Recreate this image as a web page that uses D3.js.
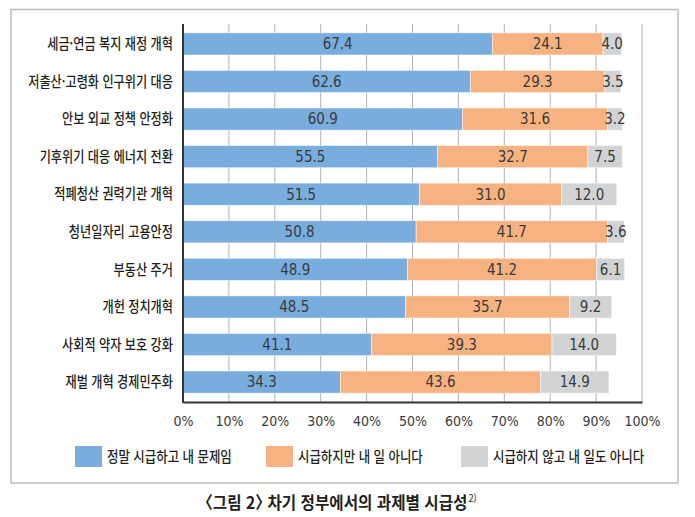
<!DOCTYPE html>
<html lang="ko">
<head>
<meta charset="UTF-8">
<title>차기 정부에서의 과제별 시급성</title>
<script src="https://d3js.org/d3.v7.min.js"></script>
<style>
  html, body { margin: 0; padding: 0; background: #fff; }
  svg { display: block; }
  .kr { font-family: "Noto Sans CJK KR", "Noto Sans", sans-serif; fill: #231f20; }
  .num { font-family: "Liberation Sans Narrow", "DejaVu Sans Condensed", Arial, sans-serif; fill: #3a3a3a; }
  .grid line { stroke: #b3b3b3; stroke-width: 1; }
  .title { font-feature-settings: "halt"; }
</style>
</head>
<body>
<svg id="chart"></svg>
<script>
// data
const categories = [
  '세금·연금 복지 재정 개혁',
  '저출산·고령화 인구위기 대응',
  '안보 외교 정책 안정화',
  '기후위기 대응 에너지 전환',
  '적폐청산 권력기관 개혁',
  '청년일자리 고용안정',
  '부동산 주거',
  '개헌 정치개혁',
  '사회적 약자 보호 강화',
  '재벌 개혁 경제민주화'
];
const urgentMine    = [67.4, 62.6, 60.9, 55.5, 51.5, 50.8, 48.9, 48.5, 41.1, 34.3];
const urgentNotMine = [24.1, 29.3, 31.6, 32.7, 31.0, 41.7, 41.2, 35.7, 39.3, 43.6];
const neither       = [4.0, 3.5, 3.2, 7.5, 12.0, 3.6, 6.1, 9.2, 14.0, 14.9];
const seriesNames = ['정말 시급하고 내 문제임', '시급하지만 내 일 아니다', '시급하지 않고 내 일도 아니다'];
const colors = ['#79adde', '#f7b282', '#d2d3d5'];
const ticks = [0, 10, 20, 30, 40, 50, 60, 70, 80, 90, 100];
const title = '〈그림 2〉 차기 정부에서의 과제별 시급성';
const titleNote = '2)';

const width = 695, height = 517;
const svg = d3.select('#chart').attr('width', width).attr('height', height);

// outer frame
svg.append('rect')
  .attr('x', 11).attr('y', 9.5)
  .attr('width', 667).attr('height', 473.5)
  .attr('fill', 'none').attr('stroke', '#bdbdbd').attr('stroke-width', 1.5);

const plot = { left: 183, right: 642, top: 24, bottom: 402 };

const x = d3.scaleLinear().domain([0, 100]).range([plot.left, plot.right]);
const y = d3.scaleBand().domain(categories).range([plot.top, plot.bottom])
  .paddingInner(0.41).paddingOuter(0.235);

// stack rows
const rows = categories.map((c, i) => ({ cat: c, s0: urgentMine[i], s1: urgentNotMine[i], s2: neither[i] }));
const stack = d3.stack().keys(['s0', 's1', 's2'])(rows);

// gridlines
svg.append('g').attr('class', 'grid')
  .selectAll('line').data(ticks.slice(1)).join('line')
  .attr('x1', d => x(d)).attr('x2', d => x(d))
  .attr('y1', plot.top).attr('y2', plot.bottom);

// bars
const layers = svg.selectAll('g.layer').data(stack).join('g')
  .attr('class', 'layer')
  .attr('fill', (d, i) => colors[i]);

layers.selectAll('rect').data(d => d).join('rect')
  .attr('x', d => x(d[0]))
  .attr('y', d => y(d.data.cat))
  .attr('width', d => x(d[1]) - x(d[0]))
  .attr('height', y.bandwidth())
  .attr('stroke', 'rgba(255,255,255,0.6)')
  .attr('stroke-width', 0.8);

// value labels
layers.selectAll('text').data(d => d).join('text')
  .attr('class', 'num')
  .attr('x', d => (x(d[0]) + x(d[1])) / 2)
  .attr('y', d => y(d.data.cat) + y.bandwidth() / 2)
  .attr('dy', '0.36em')
  .attr('text-anchor', 'middle')
  .attr('font-size', 15)
  .text(d => (d[1] - d[0]).toFixed(1));

// axes
const xAxis = d3.axisBottom(x).tickValues(ticks).tickFormat(d => d + '%').tickSize(0).tickPadding(14);
const gx = svg.append('g').attr('transform', `translate(0,${plot.bottom})`).call(xAxis);
gx.select('.domain').attr('stroke', '#333').attr('stroke-width', 2);
gx.selectAll('text').attr('class', 'num').attr('font-size', 14).attr('fill', '#3a3a3a');

svg.append('line')
  .attr('x1', plot.left).attr('x2', plot.left)
  .attr('y1', plot.top).attr('y2', plot.bottom + 1)
  .attr('stroke', '#333').attr('stroke-width', 2);

// category labels (condensed Korean face)
svg.append('g').selectAll('text').data(categories).join('text')
  .attr('class', 'kr')
  .attr('transform', d => `translate(173,${y(d) + y.bandwidth() / 2}) scale(0.84,1)`)
  .attr('dy', '0.36em')
  .attr('text-anchor', 'end')
  .attr('font-size', 14.5)
  .attr('font-weight', 500)
  .text(d => d);

// legend
const legendX = [75, 266, 461];
const lg = svg.append('g').selectAll('g').data(seriesNames).join('g')
  .attr('transform', (d, i) => `translate(${legendX[i]},446)`);
lg.append('rect').attr('width', 27).attr('height', 21).attr('fill', (d, i) => colors[i]);
lg.append('text')
  .attr('class', 'kr')
  .attr('transform', 'translate(32,10.5) scale(0.87,1)')
  .attr('dy', '0.36em')
  .attr('font-size', 14.3)
  .attr('font-weight', 500)
  .text(d => d);

// title
const t = svg.append('text')
  .attr('class', 'kr title')
  .attr('transform', 'translate(205,509) scale(0.92,1)')
  .attr('font-size', 17)
  .attr('font-weight', 'bold')
  .text(title);
t.append('tspan')
  .attr('font-size', 10)
  .attr('font-weight', 'normal')
  .attr('dy', -7)
  .attr('dx', 1)
  .text(titleNote);
</script>
</body>
</html>
